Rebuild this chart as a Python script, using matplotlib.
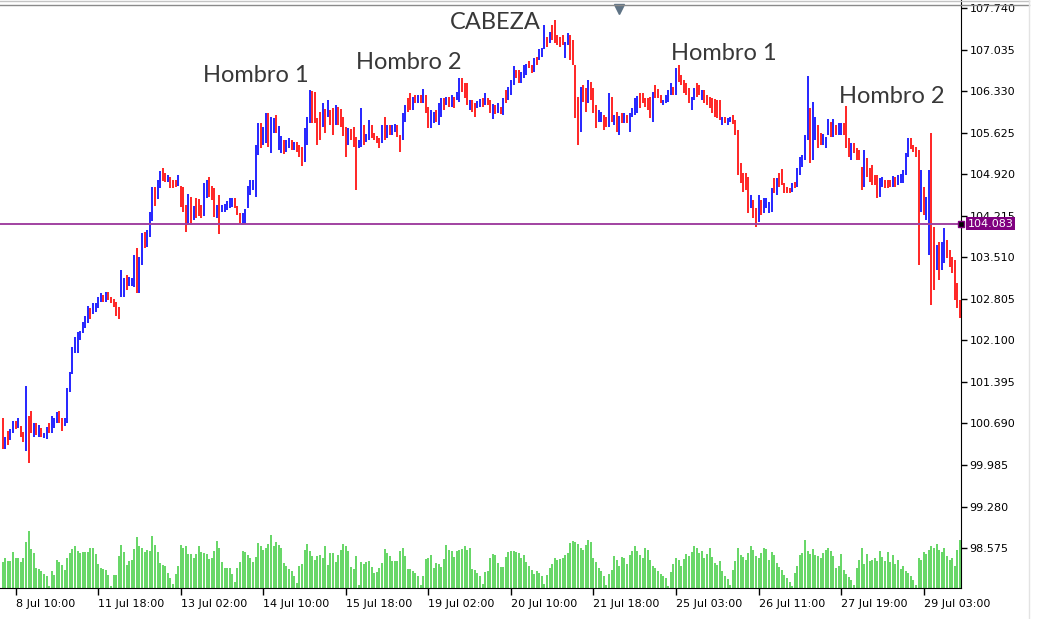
import matplotlib
matplotlib.use("Agg")
import matplotlib.pyplot as plt
from matplotlib.lines import Line2D
import numpy as np

# hourly bars, oldest first
highs = [
    100.78, 100.46, 100.56, 100.60, 100.73, 100.73, 100.78, 100.65, 100.54, 101.33,
    100.82, 100.90, 100.70, 100.70, 100.66, 100.61, 100.53, 100.63, 100.70, 100.82,
    100.78, 100.88, 100.90, 100.78, 100.78, 101.29, 101.56, 101.99, 102.16, 102.24,
    102.26, 102.41, 102.51, 102.68, 102.65, 102.73, 102.73, 102.84, 102.90, 102.87,
    102.92, 102.92, 102.84, 102.80, 102.75, 102.67, 103.29, 103.16, 103.21, 103.18,
    103.16, 103.55, 103.67, 103.51, 103.92, 103.94, 103.97, 104.28, 104.70, 104.70,
    104.82, 104.97, 105.03, 104.94, 104.91, 104.87, 104.82, 104.82, 104.91, 104.72,
    104.70, 104.40, 104.58, 104.53, 104.38, 104.52, 104.50, 104.40, 104.77, 104.82,
    104.87, 104.72, 104.69, 104.40, 104.57, 104.40, 104.41, 104.46, 104.52, 104.52,
    104.52, 104.38, 104.26, 104.26, 104.33, 104.72, 104.82, 104.82, 105.42, 105.79,
    105.79, 105.72, 105.96, 105.96, 105.89, 105.87, 105.92, 105.74, 105.57, 105.50,
    105.50, 105.53, 105.50, 105.47, 105.47, 105.42, 105.38, 105.70, 105.89, 106.35,
    106.33, 106.31, 105.87, 105.98, 106.13, 106.03, 106.18, 106.01, 106.04, 106.09,
    106.06, 106.03, 105.89, 105.72, 105.70, 105.69, 105.72, 105.55, 105.50, 106.04,
    105.76, 105.60, 105.84, 105.76, 105.62, 105.57, 105.53, 105.76, 105.89, 105.76,
    105.76, 105.76, 105.77, 105.76, 105.59, 105.96, 106.09, 106.21, 106.30, 106.23,
    106.26, 106.26, 106.26, 106.37, 106.26, 106.06, 106.01, 105.98, 106.01, 106.13,
    106.21, 106.21, 106.23, 106.23, 106.26, 106.23, 106.31, 106.55, 106.55, 106.47,
    106.47, 106.18, 106.18, 106.13, 106.16, 106.20, 106.21, 106.30, 106.21, 106.18,
    106.11, 106.09, 106.13, 106.06, 106.21, 106.35, 106.40, 106.52, 106.76, 106.69,
    106.69, 106.65, 106.77, 106.79, 106.84, 106.77, 106.89, 106.91, 107.04, 107.06,
    107.45, 107.25, 107.33, 107.45, 107.54, 107.28, 107.25, 107.28, 107.16, 107.32,
    107.28, 107.20, 106.77, 106.23, 106.40, 106.43, 106.38, 106.52, 106.48, 106.38,
    106.09, 106.01, 105.98, 105.92, 105.89, 106.30, 106.23, 105.92, 105.98, 105.91,
    105.96, 105.96, 105.92, 105.96, 106.04, 106.21, 106.25, 106.30, 106.30, 106.21,
    106.21, 106.23, 106.31, 106.43, 106.37, 106.26, 106.18, 106.26, 106.35, 106.47,
    106.40, 106.72, 106.77, 106.60, 106.52, 106.47, 106.38, 106.23, 106.38, 106.47,
    106.43, 106.35, 106.35, 106.26, 106.23, 106.21, 106.20, 106.18, 106.18, 105.89,
    105.89, 105.87, 105.89, 105.92, 105.84, 105.67, 105.11, 104.94, 104.94, 104.87,
    104.57, 104.48, 104.35, 104.57, 104.48, 104.52, 104.52, 104.45, 104.69, 104.86,
    104.86, 104.94, 105.01, 104.77, 104.70, 104.69, 104.77, 104.79, 105.03, 105.21,
    105.25, 105.59, 106.59, 106.04, 106.14, 105.89, 105.76, 105.62, 105.60, 105.55,
    105.86, 105.81, 105.86, 105.76, 105.79, 105.79, 105.79, 106.08, 105.53, 105.45,
    105.45, 105.36, 105.33, 105.04, 105.33, 105.20, 105.03, 105.08, 104.91, 104.91,
    104.86, 104.87, 104.82, 104.82, 104.82, 104.89, 104.87, 104.91, 104.92, 104.99,
    105.28, 105.53, 105.53, 105.42, 105.38, 105.33, 104.99, 104.70, 104.53, 104.99,
    105.62, 104.02, 103.72, 103.77, 103.77, 104.01, 103.80, 103.63, 103.51, 103.46,
    103.07, 102.79,
]
lows = [
    100.26, 100.26, 100.33, 100.41, 100.53, 100.60, 100.61, 100.46, 100.38, 100.22,
    100.02, 100.53, 100.46, 100.49, 100.46, 100.46, 100.44, 100.43, 100.53, 100.53,
    100.61, 100.70, 100.70, 100.56, 100.65, 100.70, 101.22, 101.53, 101.89, 101.89,
    102.11, 102.23, 102.31, 102.39, 102.46, 102.55, 102.58, 102.65, 102.75, 102.75,
    102.75, 102.79, 102.73, 102.67, 102.51, 102.46, 102.84, 102.84, 102.96, 103.02,
    103.02, 103.01, 102.90, 102.90, 103.38, 103.67, 103.68, 103.85, 104.13, 104.38,
    104.50, 104.69, 104.80, 104.79, 104.79, 104.69, 104.69, 104.70, 104.72, 104.36,
    104.28, 103.94, 104.06, 104.06, 104.14, 104.18, 104.21, 104.18, 104.21, 104.52,
    104.53, 104.48, 104.19, 104.18, 103.91, 104.28, 104.28, 104.31, 104.35, 104.36,
    104.35, 104.23, 104.08, 104.06, 104.08, 104.35, 104.57, 104.65, 104.53, 105.25,
    105.36, 105.42, 105.45, 105.38, 105.28, 105.62, 105.62, 105.33, 105.28, 105.26,
    105.30, 105.36, 105.33, 105.33, 105.30, 105.21, 105.06, 105.13, 105.42, 105.79,
    105.79, 105.79, 105.42, 105.50, 105.72, 105.62, 105.89, 105.76, 105.59, 105.76,
    105.76, 105.72, 105.57, 105.21, 105.42, 105.50, 105.38, 104.65, 105.36, 105.38,
    105.42, 105.47, 105.50, 105.53, 105.50, 105.45, 105.36, 105.45, 105.50, 105.53,
    105.59, 105.59, 105.64, 105.55, 105.30, 105.50, 105.81, 105.98, 106.01, 106.01,
    106.13, 106.13, 106.13, 106.13, 105.96, 105.70, 105.70, 105.79, 105.81, 105.76,
    105.89, 106.01, 106.09, 106.06, 106.06, 106.04, 106.18, 106.14, 106.31, 106.21,
    106.09, 106.01, 105.98, 105.89, 106.04, 106.06, 106.06, 106.09, 106.09, 105.96,
    105.86, 105.94, 105.96, 105.94, 105.92, 106.13, 106.18, 106.26, 106.43, 106.55,
    106.47, 106.47, 106.55, 106.60, 106.72, 106.64, 106.65, 106.77, 106.86, 106.91,
    107.04, 107.08, 107.15, 107.20, 107.15, 107.11, 107.08, 107.11, 106.89, 107.11,
    106.86, 106.77, 105.87, 105.42, 105.64, 106.14, 105.98, 106.13, 106.18, 105.96,
    105.70, 105.81, 105.81, 105.67, 105.72, 105.72, 105.81, 105.76, 105.64, 105.59,
    105.79, 105.79, 105.79, 105.64, 105.89, 105.92, 105.96, 106.04, 106.13, 106.06,
    106.01, 105.87, 105.81, 106.21, 106.21, 106.13, 106.09, 106.13, 106.14, 106.26,
    106.26, 106.26, 106.48, 106.43, 106.30, 106.26, 106.13, 106.01, 106.18, 106.23,
    106.26, 106.18, 106.13, 106.09, 106.04, 105.96, 105.89, 105.87, 105.84, 105.76,
    105.79, 105.76, 105.81, 105.77, 105.59, 104.91, 104.77, 104.62, 104.65, 104.26,
    104.35, 104.18, 104.03, 104.11, 104.23, 104.26, 104.35, 104.26, 104.28, 104.60,
    104.57, 104.70, 104.74, 104.60, 104.60, 104.60, 104.62, 104.69, 104.70, 104.91,
    105.04, 105.16, 105.50, 105.11, 105.16, 105.50, 105.36, 105.42, 105.42, 105.36,
    105.59, 105.55, 105.55, 105.59, 105.59, 105.59, 105.59, 105.36, 105.21, 105.16,
    105.28, 105.16, 105.16, 104.65, 104.70, 104.87, 104.79, 104.74, 104.74, 104.52,
    104.53, 104.70, 104.69, 104.69, 104.70, 104.70, 104.70, 104.74, 104.77, 104.77,
    104.91, 105.21, 105.35, 105.30, 105.21, 103.38, 104.28, 104.23, 104.14, 103.55,
    102.70, 102.96, 103.29, 103.12, 103.29, 103.41, 103.50, 103.34, 103.24, 102.79,
    102.65, 102.48,
]
# u = bull bar (close > open), d = bear bar
bar_dir = (
    "duduududdu" "ddududuudu" "uudduuuuuu" "uuuuduuuud" "uddddduudu"
    "uuduuduuud" "uuddudddud" "ddududdduu" "ddduduuuuu" "ddduuuuuuu"
    "duuduuduud" "uududdduuu" "ddddududdu" "dddduddduu" "duuddddudu"
    "duudduuddu" "dududduudu" "udududuudd" "dudduududd" "udududuuud"
    "duuudduduu" "ududdddduu" "dddduddudd" "duuddududu" "duduuuuddd"
    "dduddduuuu" "duddddduud" "dudddddddu" "duuddddddd" "udduduuuud"
    "uddddduduu" "uuuduudduu" "ududuudddu" "dddduddddd" "uuddduduuu"
    "uudddduduu" "dduduudddd" "dd"
)
volumes = [
    26, 30, 27, 27, 36, 30, 30, 26, 30, 46,
    57, 39, 35, 20, 19, 17, 14, 12, 2, 17,
    13, 28, 26, 23, 18, 30, 35, 39, 42, 37,
    35, 36, 36, 36, 40, 40, 34, 24, 20, 19,
    18, 13, 2, 13, 13, 32, 43, 36, 23, 27,
    28, 39, 51, 42, 40, 36, 38, 37, 52, 43,
    36, 25, 23, 22, 15, 10, 4, 14, 22, 43,
    40, 42, 34, 34, 30, 34, 42, 36, 35, 34,
    29, 30, 37, 47, 40, 26, 20, 20, 20, 14,
    6, 20, 26, 37, 36, 33, 30, 26, 31, 45,
    42, 38, 40, 44, 53, 42, 46, 43, 40, 25,
    22, 19, 17, 12, 5, 22, 24, 38, 44, 37,
    32, 28, 32, 33, 30, 42, 23, 35, 35, 26,
    33, 38, 44, 42, 37, 21, 19, 32, 3, 26,
    24, 26, 27, 21, 15, 16, 20, 25, 39, 35,
    32, 27, 27, 27, 37, 40, 32, 19, 19, 17,
    15, 12, 3, 12, 29, 30, 33, 20, 25, 24,
    21, 29, 43, 38, 37, 31, 37, 38, 39, 42,
    38, 40, 19, 18, 15, 12, 4, 16, 17, 30,
    34, 33, 25, 21, 21, 31, 36, 37, 37, 36,
    35, 30, 33, 26, 22, 18, 14, 17, 15, 12,
    4, 13, 20, 24, 30, 28, 29, 30, 33, 35,
    45, 47, 46, 44, 40, 38, 43, 48, 46, 30,
    26, 20, 17, 12, 3, 14, 18, 32, 28, 22,
    31, 30, 24, 33, 37, 42, 37, 33, 30, 40,
    38, 28, 22, 20, 17, 14, 12, 10, 2, 16,
    24, 30, 28, 22, 29, 34, 32, 36, 42, 40,
    35, 37, 30, 34, 40, 31, 25, 23, 27, 17,
    12, 9, 3, 18, 27, 40, 33, 31, 28, 35,
    42, 38, 32, 30, 35, 40, 39, 28, 36, 33,
    25, 21, 18, 13, 10, 6, 2, 15, 22, 33,
    35, 48, 37, 34, 39, 33, 32, 30, 35, 38,
    40, 37, 32, 20, 22, 34, 18, 14, 11, 8,
    3, 20, 28, 40, 24, 34, 27, 28, 30, 27,
    37, 31, 27, 36, 26, 33, 24, 28, 19, 22,
    17, 15, 12, 8, 3, 30, 28, 36, 34, 38,
    42, 40, 44, 38, 36, 40, 32, 28, 30, 22,
    38, 48,
]

time_ticks = [5, 37, 69, 101, 133, 165, 197, 229, 261, 293, 325, 357]
time_labels = ["8 Jul 10:00", "11 Jul 18:00", "13 Jul 02:00", "14 Jul 10:00",
               "15 Jul 18:00", "19 Jul 02:00", "20 Jul 10:00", "21 Jul 18:00",
               "25 Jul 03:00", "26 Jul 11:00", "27 Jul 19:00", "29 Jul 03:00"]
price_ticks = [107.740, 107.035, 106.330, 105.625, 104.920, 104.215, 103.510,
               102.805, 102.100, 101.395, 100.690, 99.985, 99.280, 98.575]
neckline = 104.083

pattern_names = ["Hombro 1", "Hombro 2", "CABEZA", "Hombro 1", "Hombro 2"]
pattern_bar = [98, 157.5, 191, 279.5, 344.5]
pattern_price = [106.60, 106.82, 107.49, 106.96, 106.23]

fig = plt.figure(figsize=(10.4, 6.19), dpi=100)
ax = fig.add_axes([0, 31 / 619, 961 / 1040, 588 / 619])

x = np.arange(len(highs))
colors = ["#0000ff" if c == "u" else "#ff0000" for c in bar_dir[:len(x)]]

# volumes in the bottom strip (own scale)
vax = ax.twinx()
vx = np.arange(len(volumes))
vax.vlines(vx, 0, volumes, colors="#4ccf4c", linewidth=1.2)
vax.set_ylim(0, max(volumes) * 10.3)
vax.set_yticks([])
for s in vax.spines.values():
    s.set_visible(False)

ax.set_zorder(vax.get_zorder() + 1)
ax.patch.set_visible(False)

ax.vlines(x, lows, highs, colors=colors, linewidth=1.2)
ax.axhline(neckline, color="#a142a1", linewidth=1.4)

ax.set_xlim(-1.05, 371.45)
ax.set_ylim(97.898, 107.876)

ax.yaxis.tick_right()
ax.set_yticks(price_ticks)
ax.set_yticklabels(["%.3f" % p for p in price_ticks])
ax.set_xticks(time_ticks)
ax.set_xticklabels(time_labels)
for lbl in ax.get_xticklabels():
    lbl.set_horizontalalignment("left")
ax.tick_params(axis="y", direction="out", length=4, width=1, pad=2,
               labelsize=8, colors="black")
ax.tick_params(axis="x", direction="out", length=5, width=1, pad=3,
               labelsize=8, colors="black")

ax.spines["left"].set_visible(False)
ax.spines["top"].set_visible(False)
ax.spines["right"].set_color("black")
ax.spines["bottom"].set_color("black")

# current price / neckline tag on the scale
ax.plot([1.0], [neckline], marker="s", ms=4, color="black", mec="#800080",
        transform=ax.get_yaxis_transform(), clip_on=False, zorder=6)
ax.text(1.007, neckline, "%.3f" % neckline, transform=ax.get_yaxis_transform(),
        ha="left", va="center", fontsize=8, color="white", zorder=6,
        bbox=dict(boxstyle="square,pad=0.15", fc="#800080", ec="none"))

# window frame at the top and chart shift marker
fig.add_artist(Line2D([0, 1029 / 1040], [1 - 1 / 619] * 2, color="#c4c4c4", linewidth=1))
fig.add_artist(Line2D([0, 1029 / 1040], [1 - 4.5 / 619] * 2, color="#8a8a8a", linewidth=1))
ax.plot([619 / 961], [1 - 9 / 588], marker="v", ms=7, color="#5f7385",
        transform=ax.transAxes, clip_on=False)

for name, bx, py in zip(pattern_names, pattern_bar, pattern_price):
    ax.text(bx, py, name, ha="center", va="center", fontsize=17,
            family=["Lato", "DejaVu Sans"], color="#383838")

fig.add_artist(Line2D([1029 / 1040] * 2, [0, 1], color="#e3e3e3", linewidth=1))

fig.savefig("out.png", dpi=100)
